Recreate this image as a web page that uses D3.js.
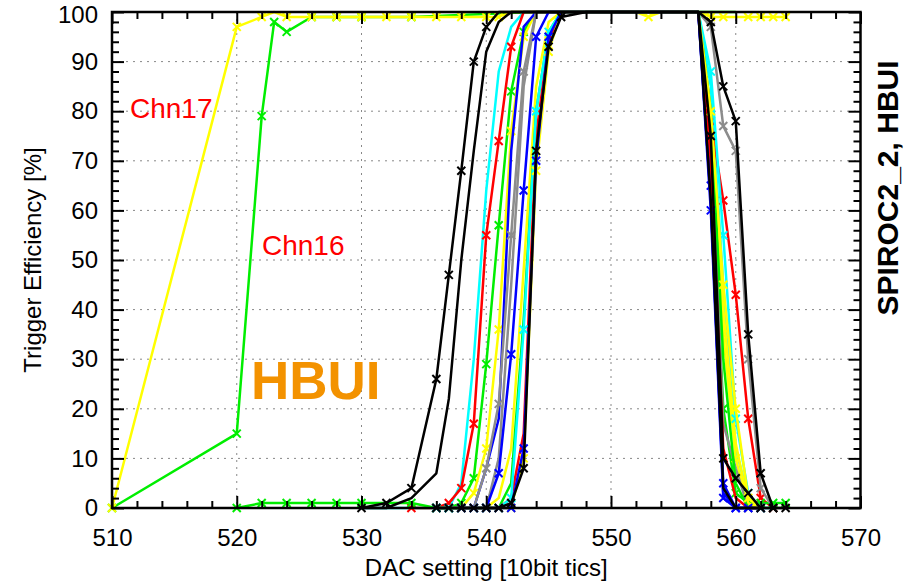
<!DOCTYPE html>
<html>
<head>
<meta charset="utf-8">
<script src="https://cdn.jsdelivr.net/npm/d3@7"></script>
<style>
  body { margin: 0; background: #fff; }
  svg { display: block; font-family: "Liberation Sans", Arial, sans-serif; }
</style>
</head>
<body>
<svg width="913" height="582"></svg>
<script>
const n = null;

// DAC scan points shared by most channels (null = not measured there)
const dac = [520, 522, 524, 526, 528, 530, 532, 534, 536, 537, 538, 539, 540, 541, 542, 543,
             544, 545, 546, 548, 550, 552, 554, 556, 557, 558, 559, 560, 561, 562, 563, 564];

// trigger efficiency [%] per channel on the dac points above
const blackA  = [n,n,n,n,n, 0,1,4,26,47, 68,90,97,100,100, 100,100,100,100,100, 100,100,100,100,100, 98,85,78,35,7, 0,0];
const blackB  = [n,n,n,n,n, 0,0,2,7,22, 50,72,92,98,100, 100,100,100,100,100, 100,100,100,100,100, 62,4,0,0,0, n,n];
const blackC  = [n,n,n,n,n, n,n,n,0,0, 0,0,0,0,1, 8,72,93,99,100, 100,100,100,100,100, 75,10,6,3,0, 0,n];
const cyanA   = [n,n,n,n,n, 0,0,0,0,0, 5,30,64,88,97, 100,100,100,100,100, 100,100,100,100,100, 85,45,12,2,0, 0,n];
const cyanB   = [n,n,n,n,n, n,n,n,0,0, 0,0,0,0,2, 36,80,96,100,100, 100,100,100,100,100, 88,55,18,3,0, n,n];
const redA    = [n,n,n,n,n, n,n,0,0,1, 4,17,55,74,93, 100,100,100,100,100, 100,100,100,100,100, 78,62,43,18,2, 0,n];
const redB    = [n,n,n,n,n, n,n,n,0,0, 0,0,0,0,2, 15,75,94,100,100, 100,100,100,100,100, 70,12,2,0,0, n,n];
const greenA  = [0,1,1,1,1, 1,n,1,0,0, 1,6,29,57,84, 96,100,100,100,100, 100,100,100,100,100, 72,20,3,1,1, 1,1];
const greenB  = [n,n,n,n,n, n,n,n,0,0, 0,0,0,0,5, 38,80,96,100,100, 100,100,100,100,100, 80,30,5,0,0, n,n];
const yellowA = [n,n,n,n,n, n,n,n,0,0, 0,3,12,36,76, 95,100,100,100,100, 100,100,100,100,100, 75,35,10,0,0, n,n];
const yellowB = [n,n,n,n,n, n,n,n,0,0, 0,0,0,2,12, 48,85,98,100,100, 100,100,100,100,100, 78,40,13,1,0, n,n];
const yellowC = [n,n,n,n,n, n,n,n,n,n, 0,0,0,0,0, 10,68,92,100,100, 100,100,100,100,100, 80,45,20,2,0, n,n];
const blueA   = [n,n,n,n,n, n,n,n,0,0, 0,0,8,18,72, 97,100,100,100,100, 100,100,100,100,100, 62,3,0,0,0, n,n];
const blueB   = [n,n,n,n,n, n,n,n,0,0, 0,0,0,7,31, 64,95,100,100,100, 100,100,100,100,100, 65,5,0,0,0, n,n];
const blueC   = [n,n,n,n,n, n,n,n,n,n, 0,0,0,0,0, 12,70,95,100,100, 100,100,100,100,100, 60,2,0,0,0, n,n];
const greyA   = [n,n,n,n,n, n,n,n,n,0, 0,0,8,21,55, 88,100,100,100,100, 100,100,100,100,100, 97,77,72,30,4, 0,n];
const greyB   = [n,n,n,n,n, n,n,n,n,0, 0,0,0,10,45, 85,100,100,100,100, 100,100,100,100,100, 80,17,8,0,0, n,n];

// the two early channels have their own scan points
const chn16Dac = [510, 520, 522, 523, 524, 526, 528, 530, 534, 544, 556, 558, 560];
const chn16Eff = [0, 15, 79, 98, 96, 99, 99, 99, 99, 100, 100, 100, 100];
const chn17Dac = [510, 520, 522, 523, 524, 526, 528, 530, 532, 534, 536, 538, 540, 541, 542,
                  544, 546, 548, 550, 552, 553, 554, 556, 557, 558, 559, 561, 562, 563, 564];
const chn17Eff = [0, 97, 99, 100, 99, 99, 99, 99, 99, 99, 99, 99, 99, 99, 100,
                  100, 100, 100, 100, 100, 99, 100, 100, 100, 99, 99, 99, 99, 99, 99];

const xMajor = [510, 520, 530, 540, 550, 560, 570];
const yMajor = [0, 10, 20, 30, 40, 50, 60, 70, 80, 90, 100];

// drawing order: first ones end up underneath
const channels = [
    {dac: chn16Dac, eff: chn16Eff, color: "#00ee00", marks: true},
    {dac: chn17Dac, eff: chn17Eff, color: "#ffff00", marks: true},
    {dac: dac, eff: cyanA,   color: "#00ffff", marks: false},
    {dac: dac, eff: redA,    color: "#ff0000", marks: true},
    {dac: dac, eff: greenA,  color: "#00ee00", marks: true},
    {dac: dac, eff: yellowA, color: "#ffff00", marks: true},
    {dac: dac, eff: blueA,   color: "#0000ff", marks: false},
    {dac: dac, eff: greyA,   color: "#8c8c8c", marks: true},
    {dac: dac, eff: greyB,   color: "#8c8c8c", marks: false},
    {dac: dac, eff: blueB,   color: "#0000ff", marks: true},
    {dac: dac, eff: yellowB, color: "#ffff00", marks: false},
    {dac: dac, eff: greenB,  color: "#00ee00", marks: false},
    {dac: dac, eff: redB,    color: "#ff0000", marks: false},
    {dac: dac, eff: cyanB,   color: "#00ffff", marks: true},
    {dac: dac, eff: yellowC, color: "#ffff00", marks: true},
    {dac: dac, eff: blueC,   color: "#0000ff", marks: true},
    {dac: dac, eff: blackC,  color: "#000000", marks: true},
    {dac: dac, eff: blackB,  color: "#000000", marks: false},
    {dac: dac, eff: blackA,  color: "#000000", marks: true}
];

const margin = {top: 12, left: 112},
    width = 748.5,
    height = 496;

const svg = d3.select("svg");
const g = svg.append("g")
    .attr("transform", `translate(${margin.left},${margin.top})`);

const x = d3.scaleLinear().domain([510, 570]).range([0, width]);
const y = d3.scaleLinear().domain([0, 100]).range([height, 0]);

// dotted grid
g.selectAll(".gx")
    .data(xMajor.slice(1, -1))
    .join("line")
    .attr("x1", d => x(d)).attr("x2", d => x(d))
    .attr("y1", 0).attr("y2", height)
    .attr("stroke", "#888").attr("stroke-dasharray", "2,5");
g.selectAll(".gy")
    .data(yMajor.slice(1, -1))
    .join("line")
    .attr("x1", 0).attr("x2", width)
    .attr("y1", d => y(d)).attr("y2", d => y(d))
    .attr("stroke", "#888").attr("stroke-dasharray", "2,5");

// curves
const line = d3.line().x(d => x(d[0])).y(d => y(d[1]));
const cross = "M-4,-4L4,4M-4,4L4,-4";

channels.forEach(c => {
    const pts = c.dac.map((d, i) => [d, c.eff[i]]).filter(p => p[1] !== null);
    g.append("path")
        .datum(pts)
        .attr("d", line)
        .attr("fill", "none")
        .attr("stroke", c.color)
        .attr("stroke-width", 2.5)
        .attr("stroke-linejoin", "round");
    if (c.marks) {
        // points on the 100% plateau are hidden under the plateau line
        g.append("g").selectAll("path")
            .data(pts.filter(p => p[1] < 100))
            .join("path")
            .attr("transform", d => `translate(${x(d[0])},${y(d[1])})`)
            .attr("d", cross)
            .attr("stroke", c.color)
            .attr("stroke-width", 2);
    }
});

// axes: major + minor ticks on all four sides, pointing inwards
function styleAxis(sel) {
    sel.select(".domain").remove();
    sel.selectAll(".tick line").attr("stroke", "#000").attr("stroke-width", 2);
    sel.selectAll("text")
        .attr("font-size", 24)
        .attr("font-family", "'Liberation Sans', Arial, sans-serif")
        .attr("fill", "#000");
}

const yMinor = d3.range(2, 100, 2).filter(v => v % 10 !== 0);
const xMinor = d3.range(512, 570, 2).filter(v => v % 10 !== 0);

const yAxis = g.append("g")
    .call(d3.axisLeft(y).tickValues(yMajor).tickSize(-12).tickPadding(14)).call(styleAxis);
// keep the top label inside the page
yAxis.selectAll(".tick text").filter(d => d === 100).attr("dy", "0.45em");
g.append("g").call(d3.axisLeft(y).tickValues(yMinor).tickSize(-7).tickFormat("")).call(styleAxis);
g.append("g").attr("transform", `translate(${width},0)`)
    .call(d3.axisRight(y).tickValues(yMajor).tickSize(-12).tickFormat("")).call(styleAxis);
g.append("g").attr("transform", `translate(${width},0)`)
    .call(d3.axisRight(y).tickValues(yMinor).tickSize(-7).tickFormat("")).call(styleAxis);

g.append("g").attr("transform", `translate(0,${height})`)
    .call(d3.axisBottom(x).tickValues(xMajor).tickSize(-12).tickPadding(21)).call(styleAxis);
g.append("g").attr("transform", `translate(0,${height})`)
    .call(d3.axisBottom(x).tickValues(xMinor).tickSize(-7).tickFormat("")).call(styleAxis);
g.append("g")
    .call(d3.axisTop(x).tickValues(xMajor).tickSize(-12).tickFormat("")).call(styleAxis);
g.append("g")
    .call(d3.axisTop(x).tickValues(xMinor).tickSize(-7).tickFormat("")).call(styleAxis);

// frame
g.append("rect")
    .attr("width", width).attr("height", height)
    .attr("fill", "none")
    .attr("stroke", "#000")
    .attr("stroke-width", 2.5);

// titles
svg.append("text")
    .attr("x", margin.left + width / 2)
    .attr("y", 576)
    .attr("text-anchor", "middle")
    .style("font-size", "24px")
    .text("DAC setting [10bit tics]");

svg.append("text")
    .attr("transform", `translate(41,${margin.top + height / 2}) rotate(-90)`)
    .attr("text-anchor", "middle")
    .style("font-size", "24px")
    .text("Trigger Efficiency [%]");

svg.append("text")
    .attr("transform", "translate(898,188) rotate(-90)")
    .attr("text-anchor", "middle")
    .style("font-size", "30px")
    .style("font-weight", "bold")
    .text("SPIROC2_2, HBUI");

// annotations
svg.append("text")
    .attr("x", 130).attr("y", 118)
    .attr("fill", "#ff0000")
    .style("font-size", "28px")
    .text("Chn17");

svg.append("text")
    .attr("x", 262).attr("y", 255)
    .attr("fill", "#ff0000")
    .style("font-size", "28px")
    .text("Chn16");

svg.append("text")
    .attr("x", 251).attr("y", 399)
    .attr("fill", "#f39200")
    .style("font-size", "53px")
    .style("font-weight", "bold")
    .text("HBUI");
</script>
</body>
</html>
